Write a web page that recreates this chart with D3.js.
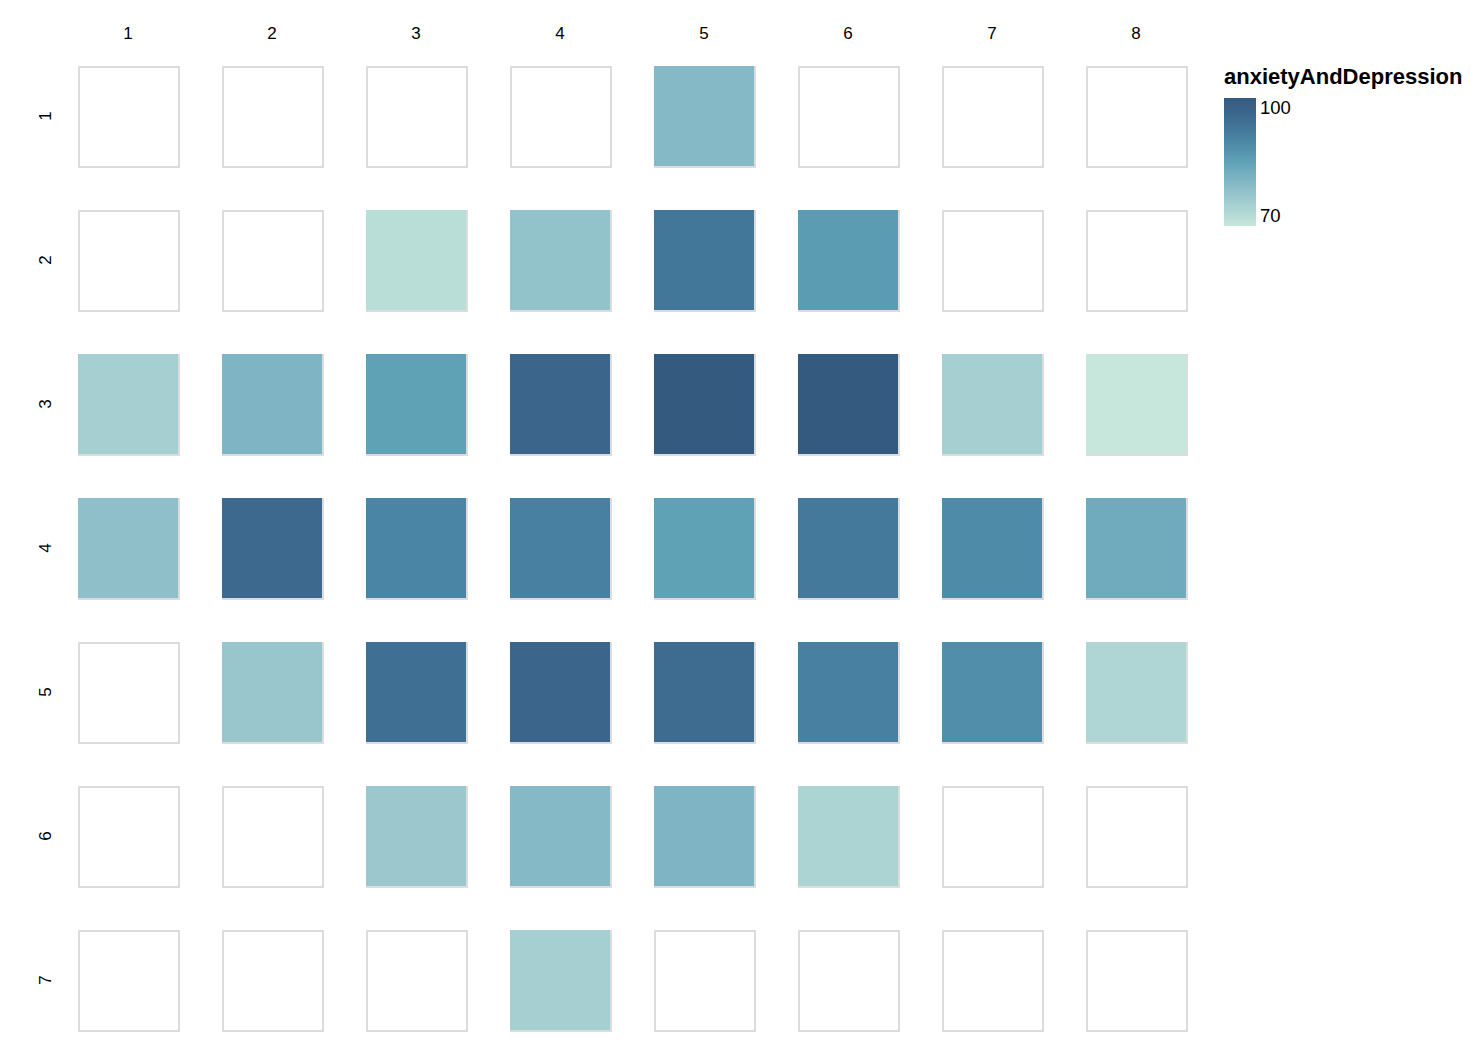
<!DOCTYPE html>
<html>
<head>
<meta charset="utf-8">
<script src="https://cdn.jsdelivr.net/npm/d3@7"></script>
<style>
  html, body { margin: 0; padding: 0; background: #fff; }
  svg { display: block; font-family: "Liberation Sans", Arial, Helvetica, sans-serif; }
</style>
</head>
<body>
<svg id="chart" width="1484" height="1062"></svg>
<script>
// ---- data ----
const columns = [1, 2, 3, 4, 5, 6, 7, 8];
const rows = [1, 2, 3, 4, 5, 6, 7];
// anxietyAndDepression values per row (null = no data)
const row1 = [null, null, null, null, 80, null, null, null];
const row2 = [null, null, 72, 78, 93, 86, null, null];
const row3 = [75, 81, 85, 97, 100, 100, 75, 70];
const row4 = [78.5, 96, 90, 91, 85, 92.5, 89, 83];
const row5 = [null, 77, 94.5, 97, 95.5, 91, 88.5, 73.5];
const row6 = [null, null, 76.5, 80, 81, 74, null, null];
const row7 = [null, null, null, 75, null, null, null, null];
const rowValues = [row1, row2, row3, row4, row5, row6, row7];
const legendTitle = "anxietyAndDepression";
const legendTicks = [100, 70];

const cells = [];
rows.forEach((r, ri) => columns.forEach((c, ci) => {
  cells.push({ row: r, col: c, value: rowValues[ri][ci] });
}));

const svg = d3.select("#chart");

const x = d3.scaleBand().domain(columns).range([56, 56 + 144 * 8])
  .paddingInner(44 / 144).paddingOuter(22 / 144);
const y = d3.scaleBand().domain(rows).range([44, 44 + 144 * 7])
  .paddingInner(44 / 144).paddingOuter(22 / 144);

const stops = ["#c7e6dc", "#a5cfd0", "#86b9c6", "#5fa2b6", "#4a85a5", "#3f6d92", "#355a80"];
const vmin = 70, vmax = 100;
const color = d3.scaleLinear()
  .domain(d3.range(stops.length).map(i => vmin + i * (vmax - vmin) / (stops.length - 1)))
  .range(stops)
  .interpolate(d3.interpolateRgb)
  .clamp(true);

// outline squares
svg.append("g").selectAll("rect").data(cells).join("rect")
  .attr("x", d => x(d.col) + 1)
  .attr("y", d => y(d.row) + 1)
  .attr("width", x.bandwidth())
  .attr("height", y.bandwidth())
  .attr("fill", "#fff")
  .attr("stroke", "#dcdcdc")
  .attr("stroke-width", 2);

// filled squares
svg.append("g").selectAll("rect").data(cells.filter(d => d.value != null)).join("rect")
  .attr("x", d => x(d.col))
  .attr("y", d => y(d.row))
  .attr("width", x.bandwidth())
  .attr("height", y.bandwidth())
  .attr("fill", d => color(d.value));

// top axis labels
svg.append("g").selectAll("text").data(columns).join("text")
  .attr("x", d => x(d) + x.bandwidth() / 2)
  .attr("y", 39)
  .attr("text-anchor", "middle")
  .attr("font-size", 17)
  .attr("fill", "#000")
  .text(d => d);

// left axis labels (rotated)
svg.append("g").selectAll("text").data(rows).join("text")
  .attr("transform", d => `translate(51, ${y(d) + y.bandwidth() / 2}) rotate(-90)`)
  .attr("text-anchor", "middle")
  .attr("font-size", 17)
  .attr("fill", "#000")
  .text(d => d);

// legend
const lg = svg.append("g");
const defs = svg.append("defs");
const grad = defs.append("linearGradient").attr("id", "lgrad")
  .attr("x1", 0).attr("y1", 1).attr("x2", 0).attr("y2", 0);
d3.range(0, 1.0001, 0.1).forEach(t => {
  grad.append("stop").attr("offset", t).attr("stop-color", color(vmin + t * (vmax - vmin)));
});
lg.append("text")
  .attr("x", 1224).attr("y", 84)
  .attr("font-size", 22).attr("font-weight", "bold").attr("fill", "#000")
  .text(legendTitle);
const ly = d3.scaleLinear().domain([vmin, vmax]).range([226, 98]);
lg.append("rect")
  .attr("x", 1224).attr("y", ly(vmax))
  .attr("width", 32).attr("height", ly(vmin) - ly(vmax))
  .attr("fill", "url(#lgrad)");
lg.selectAll("text.tick").data(legendTicks).join("text")
  .attr("class", "tick")
  .attr("x", 1260)
  .attr("y", d => d === vmax ? ly(d) + 16 : ly(d) - 4)
  .attr("font-size", 18.5)
  .attr("fill", "#000")
  .text(d => d);
</script>
</body>
</html>
